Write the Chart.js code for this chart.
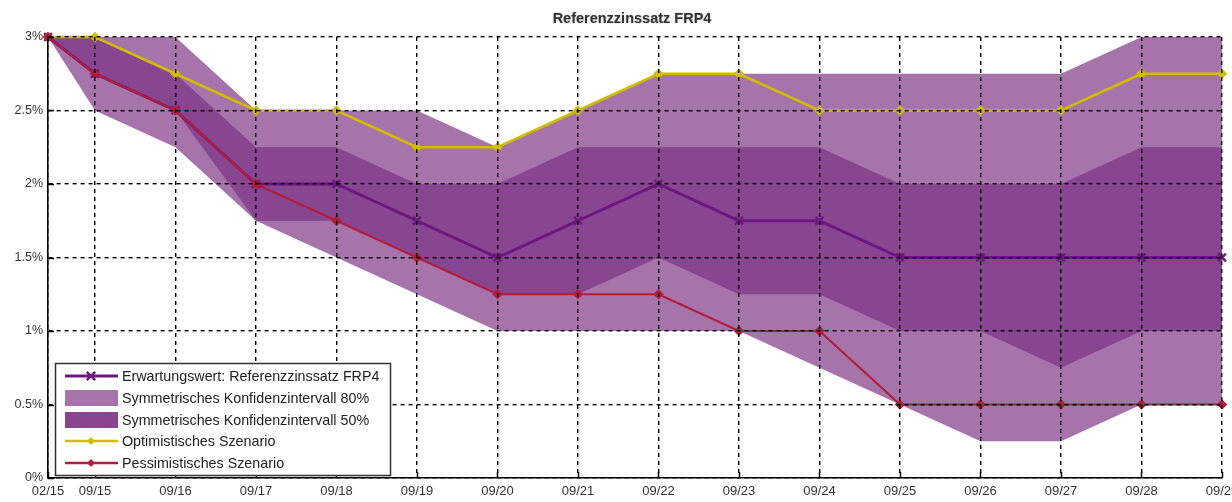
<!DOCTYPE html>
<html>
<head>
<meta charset="utf-8">
<script src="https://cdn.jsdelivr.net/npm/chart.js@4/dist/chart.umd.min.js"></script>
<style>
  html, body { margin: 0; padding: 0; background: #fff; overflow: hidden; }
  canvas { display: block; }
</style>
</head>
<body>
<canvas id="c" width="1232" height="502"></canvas>
<script>
// Reference rate forecast FRP4: expected path, scenarios and confidence bands
const chartTitle = 'Referenzzinssatz FRP4';
const dates = ['02/15','09/15','09/16','09/17','09/18','09/19','09/20','09/21','09/22','09/23','09/24','09/25','09/26','09/27','09/28','09/29'];
const expected    = [3, 2.75, 2.5, 2, 2, 1.75, 1.5, 1.75, 2, 1.75, 1.75, 1.5, 1.5, 1.5, 1.5, 1.5];
const optimistic  = [3, 3, 2.75, 2.5, 2.5, 2.25, 2.25, 2.5, 2.75, 2.75, 2.5, 2.5, 2.5, 2.5, 2.75, 2.75];
const pessimistic = [3, 2.75, 2.5, 2, 1.75, 1.5, 1.25, 1.25, 1.25, 1, 1, 0.5, 0.5, 0.5, 0.5, 0.5];
const ci80Upper   = [3, 3, 3, 2.5, 2.5, 2.5, 2.25, 2.5, 2.75, 2.75, 2.75, 2.75, 2.75, 2.75, 3, 3];
const ci80Lower   = [3, 2.5, 2.25, 1.75, 1.5, 1.25, 1, 1, 1, 1, 0.75, 0.5, 0.25, 0.25, 0.5, 0.5];
const ci50Upper   = [3, 3, 2.75, 2.25, 2.25, 2, 2, 2.25, 2.25, 2.25, 2.25, 2, 2, 2, 2.25, 2.25];
const ci50Lower   = [3, 2.75, 2.5, 1.75, 1.75, 1.5, 1.25, 1.25, 1.5, 1.25, 1.25, 1, 1, 0.75, 1, 1];
const seriesNames = [
  'Erwartungswert: Referenzzinssatz FRP4',
  'Symmetrisches Konfidenzintervall 80%',
  'Symmetrisches Konfidenzintervall 50%',
  'Optimistisches Szenario',
  'Pessimistisches Szenario'
];

const COL_EXP = '#6c1680';
const COL_CI80 = '#a674aa';
const COL_CI50 = '#884590';
const COL_OPT = '#d0bd00';
const COL_PES = '#b31d3b';
const FONT = "'Liberation Sans', Arial, sans-serif";

// months elapsed since 02/15 for an 'MM/YY' label
const monthIndex = s => {
  const [mm, yy] = s.split('/').map(Number);
  return (yy - 15) * 12 + (mm - 2);
};
const xVals = dates.map(monthIndex);
const pts = arr => arr.map((v, i) => ({ x: xVals[i], y: v }));

const lineDs = (label, data, color, width, style, radius, order) => ({
  label, data: pts(data), borderColor: color, backgroundColor: color,
  borderWidth: width, pointStyle: style, pointRadius: radius,
  pointBorderWidth: 2.5, pointBorderColor: color, pointBackgroundColor: color,
  fill: false, tension: 0, order, clip: 10
});
const bandDs = (label, data, color, fill, order) => ({
  label, data: pts(data), borderWidth: 0, borderColor: color,
  backgroundColor: color, pointRadius: 0, fill, tension: 0, order
});

// markers used in the legend samples
function marker(ctx, style, x, y, r, color) {
  ctx.save();
  ctx.strokeStyle = color; ctx.fillStyle = color; ctx.lineWidth = 2.5;
  ctx.beginPath();
  if (style === 'crossRot') {
    ctx.moveTo(x - r * 0.7, y - r * 0.7); ctx.lineTo(x + r * 0.7, y + r * 0.7);
    ctx.moveTo(x + r * 0.7, y - r * 0.7); ctx.lineTo(x - r * 0.7, y + r * 0.7);
    ctx.stroke();
  } else {
    ctx.moveTo(x, y - r); ctx.lineTo(x + r, y); ctx.lineTo(x, y + r); ctx.lineTo(x - r, y);
    ctx.closePath(); ctx.fill();
  }
  ctx.restore();
}

const decor = {
  id: 'decor',
  afterDraw(chart) {
    const ctx = chart.ctx;
    const a = chart.chartArea;
    const xs = chart.scales.x, ys = chart.scales.y;

    // short solid tick marks pointing into the plot
    ctx.save();
    ctx.strokeStyle = '#000'; ctx.lineWidth = 1.5;
    ctx.beginPath();
    xVals.forEach(v => { const px = Math.round(xs.getPixelForValue(v)) + 0.5; ctx.moveTo(px, a.bottom); ctx.lineTo(px, a.bottom - 6); });
    ys.ticks.forEach(t => { const py = Math.round(ys.getPixelForValue(t.value)) + 0.5; ctx.moveTo(a.left, py); ctx.lineTo(a.left + 6, py); });
    ctx.stroke();
    ctx.restore();

    // title
    ctx.save();
    ctx.font = 'bold 14.5px ' + FONT;
    ctx.fillStyle = '#333';
    ctx.textAlign = 'center'; ctx.textBaseline = 'middle';
    ctx.shadowColor = 'rgba(0,0,0,0.35)'; ctx.shadowBlur = 1.5;
    ctx.fillText(chartTitle, 632, 19);
    ctx.restore();

    // legend box
    const bx = 55, by = 363, bw = 335, bh = 112;
    ctx.save();
    ctx.fillStyle = '#fff';
    ctx.fillRect(bx, by, bw, bh);
    ctx.strokeStyle = '#333'; ctx.lineWidth = 1.5;
    ctx.strokeRect(bx + 0.5, by + 0.5, bw, bh);
    const rowY = [376, 398, 420, 441, 463];
    const sx0 = 65, sx1 = 118, mx = 91;
    const samples = [
      { kind: 'line', color: COL_EXP, style: 'crossRot', w: 3 },
      { kind: 'box', color: COL_CI80 },
      { kind: 'box', color: COL_CI50 },
      { kind: 'line', color: COL_OPT, style: 'rectRot', w: 2.5 },
      { kind: 'line', color: COL_PES, style: 'rectRot', w: 2.5 }
    ];
    samples.forEach((s, i) => {
      const y = rowY[i];
      if (s.kind === 'box') {
        ctx.fillStyle = s.color;
        ctx.fillRect(sx0, y - 8, sx1 - sx0, 16);
      } else {
        ctx.strokeStyle = s.color; ctx.lineWidth = s.w;
        ctx.beginPath(); ctx.moveTo(sx0, y); ctx.lineTo(sx1, y); ctx.stroke();
        marker(ctx, s.style, mx, y, s.style === 'crossRot' ? 6 : 4, s.color);
      }
      ctx.fillStyle = '#222';
      ctx.font = '14.3px ' + FONT;
      ctx.textAlign = 'left'; ctx.textBaseline = 'middle';
      ctx.fillText(seriesNames[i], 122, y + 1);
    });
    ctx.restore();
  }
};

new Chart(document.getElementById('c'), {
  type: 'line',
  data: {
    datasets: [
      lineDs(seriesNames[0], expected, COL_EXP, 3, 'crossRot', 5.5, 2),
      lineDs(seriesNames[3], optimistic, COL_OPT, 2.5, 'rectRot', 3.5, 1),
      lineDs(seriesNames[4], pessimistic, COL_PES, 2.2, 'rectRot', 3.5, 0),
      bandDs(seriesNames[2], ci50Upper, COL_CI50, '+1', 3),
      bandDs(seriesNames[2] + ' unten', ci50Lower, COL_CI50, false, 4),
      bandDs(seriesNames[1], ci80Upper, COL_CI80, '+1', 5),
      bandDs(seriesNames[1] + ' unten', ci80Lower, COL_CI80, false, 6)
    ]
  },
  options: {
    responsive: false,
    animation: false,
    devicePixelRatio: 1,
    layout: { padding: { top: 37, right: 10, left: 0, bottom: 0 } },
    plugins: { legend: { display: false }, title: { display: false }, tooltip: { enabled: false } },
    scales: {
      x: {
        type: 'linear', min: 0, max: xVals[xVals.length - 1],
        afterBuildTicks: s => { s.ticks = xVals.map(v => ({ value: v })); },
        afterFit: s => { s.height = 24; s.paddingLeft = 0; s.paddingRight = 0; },
        grid: { color: '#000', lineWidth: 1.4, drawTicks: false, z: 1 },
        border: { display: true, color: '#000', width: 1.6, dash: [4, 4], z: 1 },
        ticks: {
          autoSkip: false, maxRotation: 0, padding: 6, color: '#333',
          font: { family: FONT, size: 13 },
          callback: v => dates[xVals.indexOf(v)] || ''
        }
      },
      y: {
        min: 0, max: 3,
        afterFit: s => { s.width = 48; s.paddingTop = 0; s.paddingBottom = 0; },
        grid: { color: '#000', lineWidth: 1.4, drawTicks: false, z: 1 },
        border: { display: true, color: '#000', width: 1.6, dash: [4, 4], z: 1 },
        ticks: {
          stepSize: 0.5, padding: 5, color: '#333',
          font: { family: FONT, size: 12.5 },
          callback: v => v + '%'
        }
      }
    }
  },
  plugins: [decor]
});
</script>
</body>
</html>
